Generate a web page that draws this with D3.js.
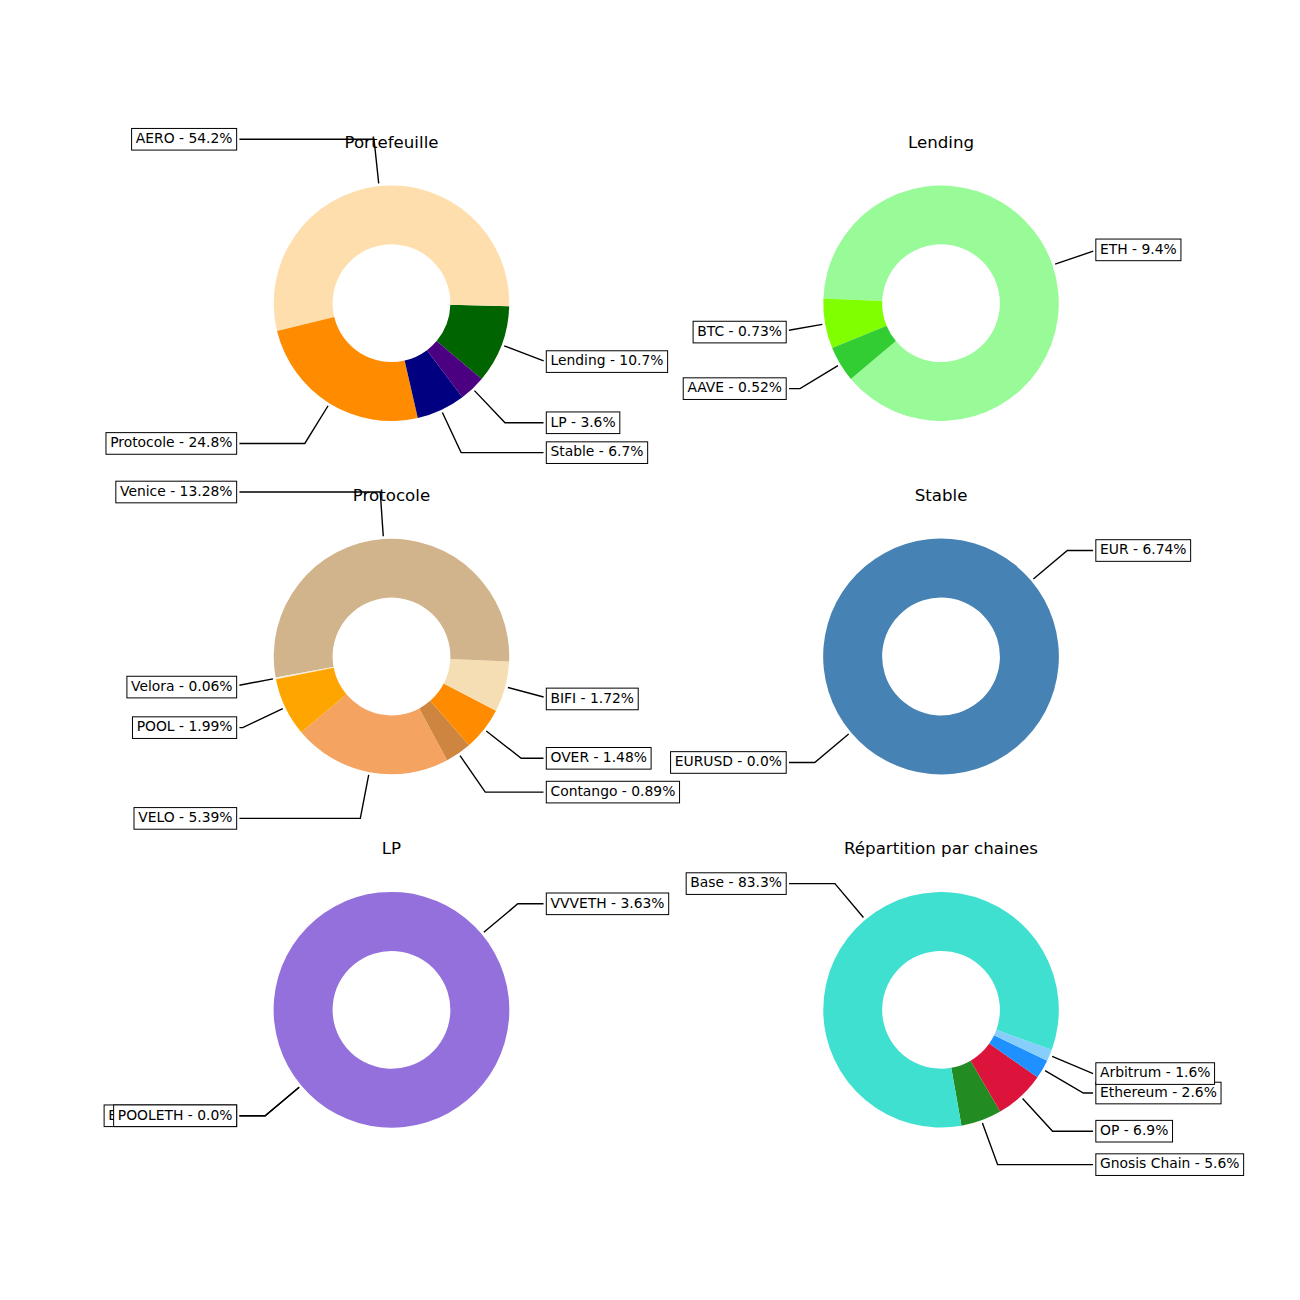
<!DOCTYPE html>
<html>
<head>
<meta charset="utf-8">
<script src="https://cdn.jsdelivr.net/npm/d3@7"></script>
<style>
  html, body { margin: 0; padding: 0; background: #ffffff; }
  svg { display: block; }
</style>
</head>
<body>
<svg id="fig" width="1300" height="1300"></svg>
<script>
// ---------------- DATA ----------------
const chartTitles = ["Portefeuille", "Lending", "Protocole", "Stable", "LP", "Répartition par chaines"];

const portefeuilleLabels = ["Lending", "AERO", "Protocole", "Stable", "LP"];
const portefeuilleValues = [10.7, 54.2, 24.8, 6.7, 3.6];
const portefeuilleColors = ["#006400", "#FFDEAD", "#FF8C00", "#000080", "#4B0082"];

const lendingLabels = ["ETH", "BTC", "AAVE"];
const lendingValues = [9.4, 0.73, 0.52];
const lendingColors = ["#98FB98", "#7FFF00", "#32CD32"];

const protocoleLabels = ["VELO", "Contango", "OVER", "BIFI", "Venice", "Velora", "POOL"];
const protocoleValues = [5.39, 0.89, 1.48, 1.72, 13.28, 0.06, 1.99];
const protocoleColors = ["#F4A460", "#CD853F", "#FF8C00", "#F5DEB3", "#D2B48C", "#FAEBD7", "#FFA500"];

const stableLabels = ["EUR", "EURUSD"];
const stableValues = [6.74, 0.0];
const stableColors = ["#4682B4", "#87CEEB"];

const lpLabels = ["VVVETH", "BPOOLETH", "POOLETH"];
const lpValues = [3.63, 0.0, 0.0];
const lpColors = ["#9370DB", "#BA55D3", "#DDA0DD"];

const chainLabels = ["Gnosis Chain", "OP", "Ethereum", "Arbitrum", "Base"];
const chainValues = [5.6, 6.9, 2.6, 1.6, 83.3];
const chainColors = ["#228B22", "#DC143C", "#1E90FF", "#87CEFA", "#40E0D0"];

// start angle of first wedge (degrees, counter-clockwise from 3 o'clock)
const startAngles = [-40, -140, -140, -140, -140, -80];

// ---------------- LAYOUT ----------------
const W = 1300, H = 1300;
const charts = [
  { labels: portefeuilleLabels, values: portefeuilleValues, colors: portefeuilleColors },
  { labels: lendingLabels, values: lendingValues, colors: lendingColors },
  { labels: protocoleLabels, values: protocoleValues, colors: protocoleColors },
  { labels: stableLabels, values: stableValues, colors: stableColors },
  { labels: lpLabels, values: lpValues, colors: lpColors },
  { labels: chainLabels, values: chainValues, colors: chainColors }
].map((c, i) => Object.assign(c, { title: chartTitles[i], start: startAngles[i] }));

const FONT = "'DejaVu Sans', Verdana, sans-serif";
const PT = 100 / 72;                 // px per point at 100 dpi
const labelFS = 10 * PT, titleFS = 12 * PT;
const pad = 0.3 * labelFS;
const boxH = 13.3 + 2 * pad;
const shrink = 2 * PT;

const gl = 0.125 * W, gr = 0.9 * W, gt = 0.12 * H, gb = 0.89 * H;
const nrows = 3, ncols = 2, wsp = 0.2, hsp = 0.2;
const cellW = (gr - gl) / (ncols + wsp * (ncols - 1));
const cellH = (gb - gt) / (nrows + hsp * (nrows - 1));

const svg = d3.select("#fig");
svg.append("rect").attr("width", W).attr("height", H).attr("fill", "#ffffff");

function pyFloat(v) {
  const s = String(v);
  return Number.isInteger(v) ? v.toFixed(1) : s;
}

function shrinkStart(pts, s) {
  while (s > 0 && pts.length >= 2) {
    const [a, b] = pts;
    const L = Math.hypot(b[0] - a[0], b[1] - a[1]);
    if (L > s) { pts[0] = [a[0] + (b[0] - a[0]) * s / L, a[1] + (b[1] - a[1]) * s / L]; s = 0; }
    else { pts.shift(); s -= L; }
  }
  return pts;
}

charts.forEach((chart, i) => {
  const r = Math.floor(i / ncols), c = i % ncols;
  const axLeft = gl + c * cellW * (1 + wsp);
  const axTop = gt + r * cellH * (1 + hsp);
  const cx = axLeft + cellW / 2;
  const cy = axTop + cellH / 2;
  const side = Math.min(cellW, cellH);
  const R = side / 2.5;
  const sqTop = cy - side / 2;

  const data = chart.labels.map((l, k) => ({ label: l, value: chart.values[k], color: chart.colors[k] }));
  const a0 = (90 - chart.start) * Math.PI / 180;   // d3 angle (clockwise from north)
  const pie = d3.pie().sort(null).value(d => d.value).startAngle(a0).endAngle(a0 - 2 * Math.PI);
  const arcs = pie(data);
  const arc = d3.arc().innerRadius(R * 0.5).outerRadius(R);

  const g = svg.append("g");
  const annG = g.append("g");
  const wedgeG = g.append("g").attr("transform", `translate(${cx},${cy})`);

  // annotations (drawn under wedges)
  arcs.forEach(a => {
    const am = (a.startAngle + a.endAngle) / 2;
    const ux = Math.sin(am), uy = -Math.cos(am);
    const sign = ux >= 0 ? 1 : -1;
    const P = [cx + R * ux, cy + R * uy];
    const K = [cx + 1.4 * R * ux, cy + 1.4 * R * uy];
    const tx = cx + 1.35 * R * sign;
    const ly = cy + 1.4 * R * uy;
    const txt = `${a.data.label} - ${pyFloat(a.data.value)}%`;

    const grp = annG.append("g");
    const path = grp.append("path");
    const rect = grp.append("rect");
    const t = grp.append("text")
      .attr("x", tx).attr("y", ly + 3.8)
      .attr("text-anchor", sign > 0 ? "start" : "end")
      .attr("font-family", FONT).attr("font-size", labelFS)
      .attr("fill", "#000").text(txt);
    const w = t.node().getComputedTextLength();
    const bx0 = (sign > 0 ? tx : tx - w) - pad, bx1 = bx0 + w + 2 * pad;
    const by0 = ly - boxH / 2, by1 = ly + boxH / 2;
    rect.attr("x", bx0).attr("y", by0).attr("width", bx1 - bx0).attr("height", by1 - by0)
      .attr("fill", "#fff").attr("stroke", "#000").attr("stroke-width", 0.72 * PT);

    // connection: box centre -> horizontal -> corner -> radial -> wedge edge
    let pts;
    if (K[0] < bx0 || K[0] > bx1) {
      const ex = K[0] < bx0 ? bx0 : bx1;
      pts = [[ex, ly], K, P];
    } else {
      const dx = P[0] - K[0], dy = P[1] - K[1];
      let tt = Infinity;
      if (dx > 0) tt = Math.min(tt, (bx1 - K[0]) / dx);
      if (dx < 0) tt = Math.min(tt, (bx0 - K[0]) / dx);
      if (dy > 0) tt = Math.min(tt, (by1 - K[1]) / dy);
      if (dy < 0) tt = Math.min(tt, (by0 - K[1]) / dy);
      tt = Math.max(0, Math.min(1, tt));
      pts = [[K[0] + dx * tt, K[1] + dy * tt], P];
    }
    pts = shrinkStart(pts, shrink);
    pts = shrinkStart(pts.reverse(), shrink).reverse();
    path.attr("d", d3.line()(pts)).attr("fill", "none")
      .attr("stroke", "#000").attr("stroke-width", 1 * PT);
  });

  // wedges
  wedgeG.selectAll("path").data(arcs).join("path")
    .attr("d", arc).attr("fill", d => d.data.color);

  // title
  g.append("text")
    .attr("x", cx).attr("y", sqTop - 6 * PT)
    .attr("text-anchor", "middle")
    .attr("font-family", FONT).attr("font-size", titleFS)
    .attr("fill", "#000").text(chart.title);
});
</script>
</body>
</html>
